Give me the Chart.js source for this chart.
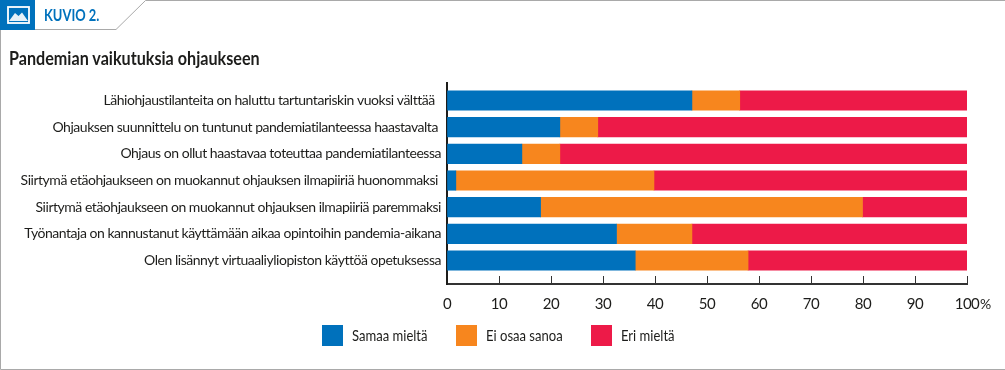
<!DOCTYPE html>
<html lang="fi">
<head>
<meta charset="utf-8">
<title>Kuvio 2</title>
<script src="https://cdn.jsdelivr.net/npm/chart.js@4/dist/chart.umd.min.js"></script>
<style>
  html, body { margin: 0; padding: 0; background: #fff; }
  #stage { position: relative; width: 1005px; height: 370px; overflow: hidden; font-family: Lato, sans-serif; color: #1d1d1b; }
  #frame, #chart { position: absolute; left: 0; top: 0; }
  #kuvio { position: absolute; left: 44px; top: 5px; font-size: 17px; line-height: 20px; font-weight: bold; color: #0071bc; transform: scaleX(.76); transform-origin: left; white-space: nowrap; }
  #title { position: absolute; left: 9px; top: 47px; font-size: 19px; line-height: 22px; font-weight: bold; transform: scaleX(.85); transform-origin: left; white-space: nowrap; }
  .key { position: absolute; top: 325px; height: 21px; line-height: 20px; font-size: 15px; white-space: nowrap; }
  .key i { position: absolute; left: 0; top: 0; width: 21px; height: 21px; }
  .key span { position: absolute; left: 30px; top: 0; transform: scaleX(.87); transform-origin: left; }
</style>
</head>
<body>
<div id="stage">
  <svg id="frame" width="1005" height="370">
    <path d="M0.5 30V369.5H1005M35 29.5H116L145.5 0.5H1005" fill="none" stroke="#a9a9a9"/>
    <rect x="0" y="0" width="35" height="30" fill="#0071bc"/>
    <rect x="8" y="7" width="21" height="16" fill="none" stroke="#fff" stroke-width="1.8"/>
    <path d="M9 21L15 13L18.5 16L22 12.5L28 21Z" fill="#e6f1f8"/>
  </svg>
  <canvas id="chart" width="1005" height="370"></canvas>
  <div id="kuvio">KUVIO 2.</div>
  <div id="title">Pandemian vaikutuksia ohjaukseen</div>
  <div id="legend"></div>
</div>
<script>
const categories = [
  'Lähiohjaustilanteita on haluttu tartuntariskin vuoksi välttää  ',
  'Ohjauksen suunnittelu on tuntunut pandemiatilanteessa haastavalta ',
  'Ohjaus on ollut haastavaa toteuttaa pandemiatilanteessa',
  'Siirtymä etäohjaukseen on muokannut ohjauksen ilmapiiriä huonommaksi ',
  'Siirtymä etäohjaukseen on muokannut ohjauksen ilmapiiriä paremmaksi',
  'Työnantaja on kannustanut käyttämään aikaa opintoihin pandemia-aikana',
  'Olen lisännyt virtuaaliyliopiston käyttöä opetuksessa'
];
const samaaMielta = [47.1, 21.7, 14.4, 1.7, 18.0, 32.6, 36.2];
const eiOsaaSanoa = [9.2, 7.3, 7.3, 38.1, 61.9, 14.5, 21.7];
const eriMielta = [43.7, 71.0, 78.3, 60.2, 20.1, 52.9, 42.1];
const seriesNames = ['Samaa mieltä', 'Ei osaa sanoa', 'Eri mieltä'];
const seriesColors = ['#0071bc', '#f7861e', '#ed1a48'];
const legendLeft = [322, 456, 591];

const labelFamily = 'Lato, sans-serif';

function rows(values) {
  return values.map((v, i) => ({x: v, y: i}));
}

const labelSpacing = {
  id: 'labelSpacing',
  beforeDraw(chart) {
    chart.ctx.letterSpacing = '-0.47px';
  },
  // The "%" sits beside the last tick label, not centred under the tick
  afterDraw(chart) {
    const ctx = chart.ctx;
    ctx.save();
    ctx.font = '14px ' + labelFamily;
    ctx.fillStyle = '#1d1d1b';
    ctx.textBaseline = 'middle';
    ctx.fillText('%', chart.scales.x.getPixelForValue(100) + 13, 304);
    ctx.restore();
  }
};

new Chart(document.getElementById('chart'), {
  type: 'bar',
  data: {
    datasets: [samaaMielta, eiOsaaSanoa, eriMielta].map((values, i) => ({
      label: seriesNames[i],
      data: rows(values),
      backgroundColor: seriesColors[i],
      barThickness: 19.5
    }))
  },
  options: {
    indexAxis: 'y',
    responsive: false,
    animation: false,
    layout: {padding: {top: 83, right: 38, bottom: 60, left: 0}},
    plugins: {legend: {display: false}, tooltip: {enabled: false}},
    scales: {
      x: {
        stacked: true,
        min: 0,
        max: 100,
        border: {color: '#333', width: 2},
        grid: {drawOnChartArea: false, color: '#333', tickLength: -8},
        ticks: {stepSize: 10, maxRotation: 0, padding: 19, color: '#1d1d1b', font: {family: labelFamily, size: 15}},
        afterFit(scale) { scale.height = 26; }
      },
      y: {
        type: 'linear',
        stacked: true,
        reverse: true,
        offset: false,
        min: -0.656,
        max: 6.88,
        border: {color: '#1d1d1b', width: 2},
        grid: {display: false, offset: false, drawTicks: false},
        ticks: {
          stepSize: 1,
          autoSkip: false,
          padding: 6,
          color: '#1d1d1b',
          font: {family: labelFamily, size: 14},
          callback: (value) => categories[value] || ''
        },
        afterFit(scale) { scale.width = 447; }
      }
    }
  },
  plugins: [labelSpacing]
});

// Legend
const legend = document.getElementById('legend');
seriesNames.forEach((name, i) => {
  const key = document.createElement('div');
  key.className = 'key';
  key.style.left = legendLeft[i] + 'px';
  key.innerHTML = '<i style="background:' + seriesColors[i] + '"></i><span>' + name + '</span>';
  legend.appendChild(key);
});
</script>
</body>
</html>
